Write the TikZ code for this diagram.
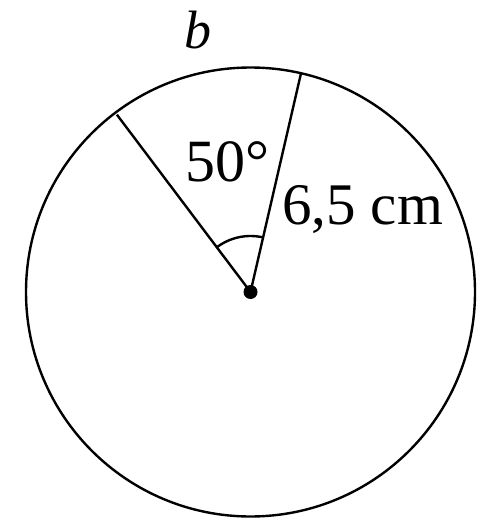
\documentclass[tikz,border=0pt]{standalone}
\usepackage{fontspec}
\setmainfont{Liberation Serif}
\usetikzlibrary{calc}
\begin{document}
\begin{tikzpicture}[x=0.5pt,y=-0.5pt,
  line/.style={line width=1.2pt,black},
  lbl/.style={inner sep=0pt,anchor=base west}]
\useasboundingbox (0,0) rectangle (477,518);
\coordinate (O) at (250.5,292);
\draw[line] (O) circle[radius=112.25pt];
\coordinate (A) at ($(O)+(77:112.25pt)$);
\coordinate (B) at ($(O)+(127:111pt)$);
\draw[line] (O) -- (A);
\draw[line] (O) -- (B);
\draw[line] ($(O)+(77:28pt)$) arc[start angle=77,end angle=127,radius=28pt];
\fill (O) circle[radius=3.5pt];
\node[lbl,font=\fontsize{30}{30}\selectfont] (ang) at (185,182) {50°};
\node[lbl,font=\fontsize{29.5}{29.5}\selectfont] (len) at (282,224) {6,5 cm};
\node[lbl,font=\fontsize{27}{27}\selectfont\itshape] (b) at (184,49) {b};
\end{tikzpicture}
\end{document}
